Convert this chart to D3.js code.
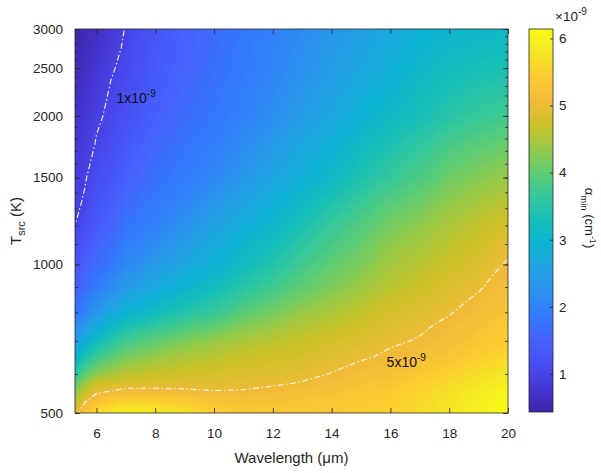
<!DOCTYPE html>
<html><head><meta charset="utf-8">
<script src="https://cdn.jsdelivr.net/npm/d3@7"></script>
<style>
html,body{margin:0;padding:0;background:#fff;}
svg{display:block;font-family:"Liberation Sans",Arial,Helvetica,sans-serif;}
</style></head><body>
<svg id="chart" width="601" height="473"></svg>
<script>
// ---------------- data ----------------
const wavelengths = [5.27, 5.6, 6, 6.5, 7, 8, 9, 10, 11, 12, 13, 14, 15, 16, 17, 18, 19, 20];
const temperatures = [500, 525, 550, 575, 600, 650, 700, 750, 800, 850, 900, 950, 1000, 1100, 1200, 1350, 1500, 1750, 2000, 2250, 2500, 2750, 3000];
// alpha_min (x1e-9 cm^-1), one row per temperature, one column per wavelength
const alphaMin = [
  [4.85,5.3,5.65,5.85,5.95,5.9,5.75,5.5,5.4,5.35,5.35,5.38,5.45,5.5,5.65,5.8,5.95,6.1],
  [4.6,5.0,5.3,5.45,5.6,5.55,5.45,5.3,5.25,5.25,5.28,5.32,5.4,5.47,5.62,5.77,5.93,6.07],
  [4.3,4.7,4.97,5.05,5.15,5.12,5.08,5.03,5.03,5.1,5.15,5.22,5.32,5.42,5.57,5.72,5.88,6.02],
  [3.95,4.35,4.7,4.75,4.82,4.85,4.87,4.88,4.93,4.95,5.02,5.1,5.22,5.32,5.48,5.63,5.78,5.93],
  [3.5,3.95,4.3,4.45,4.6,4.7,4.75,4.8,4.85,4.88,4.92,5.01,5.13,5.2,5.38,5.52,5.68,5.83],
  [2.95,3.35,3.7,3.95,4.15,4.35,4.5,4.6,4.7,4.75,4.8,4.9,4.96,5.05,5.15,5.3,5.48,5.62],
  [2.45,2.8,3.2,3.5,3.75,4.0,4.2,4.35,4.5,4.6,4.7,4.78,4.86,4.96,5.02,5.15,5.32,5.45],
  [2.1,2.42,2.75,3.07,3.32,3.6,3.82,4.0,4.22,4.38,4.53,4.64,4.76,4.88,4.96,5.06,5.22,5.36],
  [1.75,2.05,2.35,2.65,2.9,3.2,3.45,3.65,3.95,4.15,4.35,4.5,4.65,4.8,4.88,4.98,5.12,5.27],
  [1.6,1.85,2.12,2.4,2.65,2.95,3.2,3.42,3.72,3.95,4.17,4.35,4.52,4.7,4.8,4.92,5.04,5.21],
  [1.45,1.65,1.9,2.15,2.4,2.7,2.95,3.2,3.5,3.75,4.0,4.2,4.4,4.6,4.72,4.85,4.97,5.15],
  [1.37,1.55,1.77,2.0,2.25,2.55,2.8,3.05,3.35,3.6,3.88,4.1,4.3,4.52,4.65,4.78,4.92,5.09],
  [1.28,1.45,1.65,1.85,2.1,2.4,2.65,2.9,3.2,3.45,3.75,4.0,4.2,4.45,4.58,4.72,4.86,5.03],
  [1.12,1.3,1.5,1.68,1.92,2.2,2.45,2.72,3.0,3.25,3.55,3.82,4.05,4.3,4.45,4.61,4.76,4.92],
  [1.0,1.15,1.35,1.5,1.75,2.0,2.25,2.55,2.8,3.05,3.35,3.65,3.9,4.15,4.32,4.5,4.65,4.8],
  [0.92,1.03,1.25,1.39,1.6,1.85,2.07,2.33,2.57,2.82,3.1,3.38,3.65,3.9,4.08,4.3,4.45,4.6],
  [0.85,0.97,1.15,1.28,1.45,1.7,1.9,2.1,2.35,2.6,2.85,3.1,3.4,3.65,3.85,4.1,4.25,4.38],
  [0.77,0.88,1.02,1.15,1.32,1.57,1.77,1.95,2.17,2.4,2.65,2.88,3.15,3.38,3.58,3.8,3.95,4.06],
  [0.7,0.8,0.96,1.05,1.2,1.45,1.65,1.8,2.0,2.2,2.45,2.65,2.9,3.1,3.3,3.5,3.65,3.75],
  [0.62,0.72,0.86,1.03,1.14,1.4,1.58,1.75,1.94,2.12,2.35,2.55,2.77,2.97,3.17,3.35,3.48,3.55],
  [0.55,0.65,0.78,0.97,1.08,1.35,1.52,1.7,1.88,2.05,2.25,2.45,2.65,2.85,3.05,3.2,3.3,3.35],
  [0.5,0.6,0.71,0.89,1.05,1.32,1.5,1.67,1.85,2.02,2.2,2.4,2.57,2.77,2.95,3.1,3.17,3.22],
  [0.45,0.55,0.65,0.82,1.02,1.3,1.47,1.65,1.82,2.0,2.15,2.35,2.5,2.7,2.85,3.0,3.05,3.1]
];
const colorRange = [0.434, 6.14];
const xTicks = [6, 8, 10, 12, 14, 16, 18, 20];
const yTicks = [500, 1000, 1500, 2000, 2500, 3000];
const yMinorTicks = d3.range(500, 3001, 100);
const cbarTicks = [1, 2, 3, 4, 5, 6];
const contourLevels = [1, 5];
const contourLabels = [
  {base: "1x10", exp: "-9", lambda: 6.68, T: 2125},
  {base: "5x10", exp: "-9", lambda: 15.87, T: 620}
];

// ---------------- parula colormap ----------------
const parulaStops = ["#3e26a8","#4537d5","#484cf0","#4562fc","#337afd","#2c90f0","#21a3e3","#0bb3d2",
  "#14beb8","#35c79b","#5ecd74","#96ca48","#cbc128","#f3ba39","#fdcb32","#f5e526","#f9fb15"];
const parula = d3.piecewise(d3.interpolateRgb, parulaStops);
const colorOf = v => parula(Math.max(0, Math.min(1, (v - colorRange[0]) / (colorRange[1] - colorRange[0]))));

// ---------------- layout ----------------
const P = {l: 75, r: 508, t: 29, b: 413};
const CB = {l: 529, r: 553, t: 29, b: 412};
const axisColor = "#262626";

const x = d3.scaleLinear().domain([5.27, 20]).range([P.l, P.r]);
const y = d3.scaleLog().domain([500, 3000]).range([P.b, P.t]);
const cy = d3.scaleLinear().domain(colorRange).range([CB.b, CB.t]);

const svg = d3.select("#chart");
const defs = svg.append("defs");
defs.append("clipPath").attr("id", "plotClip").append("rect")
  .attr("x", P.l).attr("y", P.t).attr("width", P.r - P.l).attr("height", P.b - P.t);
defs.append("clipPath").attr("id", "lineClip").append("rect")
  .attr("x", P.l + 1.2).attr("y", P.t + 1.2).attr("width", P.r - P.l - 2.4).attr("height", P.b - P.t - 2.4);

// grid -> data coordinate transform
const n = wavelengths.length, m = temperatures.length;
function interpArr(arr, g, len) {
  const k = Math.max(0, Math.min(len - 1, g - 0.5));
  const i = Math.min(len - 2, Math.floor(k));
  return arr[i] + (k - i) * (arr[i + 1] - arr[i]);
}
const proj = d3.geoTransform({
  point(px, py) {
    this.stream.point(x(interpArr(wavelengths, px, n)), y(interpArr(temperatures, py, m)));
  }
});
const path = d3.geoPath(proj);

const values = [];
for (let j = 0; j < m; j++) for (let i = 0; i < n; i++) values.push(alphaMin[j][i]);

const step = 0.05;
const thresholds = d3.range(0.40, 6.2, step);
const bands = d3.contours().size([n, m]).thresholds(thresholds)(values);

const gFill = svg.append("g").attr("clip-path", "url(#plotClip)");
gFill.selectAll("path").data(bands).join("path")
  .attr("d", path)
  .attr("fill", d => colorOf(d.value + step / 2))
  .attr("stroke", d => colorOf(d.value + step / 2))
  .attr("stroke-width", 0.4);

// dash-dot contour lines
const lines = d3.contours().size([n, m]).thresholds(contourLevels)(values);
svg.append("g").attr("clip-path", "url(#lineClip)")
  .selectAll("path").data(lines).join("path")
  .attr("d", path)
  .attr("fill", "none")
  .attr("stroke", "#f4f4f4")
  .attr("stroke-width", 1.1)
  .attr("stroke-linejoin", "round")
  .attr("stroke-dasharray", "6,2.5,1.5,2.5");

// contour labels
contourLabels.forEach(lb => {
  const t = svg.append("text").attr("x", x(lb.lambda)).attr("y", y(lb.T))
    .attr("font-size", 14).attr("fill", "#111");
  t.append("tspan").text(lb.base);
  t.append("tspan").attr("font-size", 10).attr("dy", -6).text(lb.exp);
});

// ---------------- axes ----------------
function styleAxis(g) {
  g.selectAll("path.domain").remove();
  g.selectAll("line").attr("stroke", axisColor).attr("stroke-width", 0.8);
  g.selectAll("text").attr("fill", axisColor).attr("font-size", 13.5)
    .attr("font-family", '"Liberation Sans",Arial,Helvetica,sans-serif');
}
svg.append("g").attr("transform", `translate(0,${P.b})`)
  .call(d3.axisBottom(x).tickValues(xTicks).tickSize(-5).tickPadding(15).tickFormat(d3.format("d")))
  .call(styleAxis);
svg.append("g").attr("transform", `translate(0,${P.t})`)
  .call(d3.axisTop(x).tickValues(xTicks).tickSize(-5).tickFormat(""))
  .call(styleAxis);
svg.append("g").attr("transform", `translate(${P.l},0)`)
  .call(d3.axisLeft(y).tickValues(yMinorTicks).tickSize(-3).tickFormat(""))
  .call(styleAxis);
svg.append("g").attr("transform", `translate(${P.l},0)`)
  .call(d3.axisLeft(y).tickValues(yTicks).tickSize(-5).tickPadding(12).tickFormat(d3.format("d")))
  .call(styleAxis);
svg.append("g").attr("transform", `translate(${P.r},0)`)
  .call(d3.axisRight(y).tickValues(yMinorTicks).tickSize(-3).tickFormat(""))
  .call(styleAxis);
svg.append("g").attr("transform", `translate(${P.r},0)`)
  .call(d3.axisRight(y).tickValues(yTicks).tickSize(-5).tickFormat(""))
  .call(styleAxis);

svg.append("rect").attr("x", P.l).attr("y", P.t).attr("width", P.r - P.l).attr("height", P.b - P.t)
  .attr("fill", "none").attr("stroke", axisColor).attr("stroke-width", 0.8);

// axis labels
svg.append("text").attr("x", (P.l + P.r) / 2).attr("y", 463).attr("text-anchor", "middle")
  .attr("font-size", 15).attr("fill", axisColor).text("Wavelength (\u03bcm)");

const yl = svg.append("text").attr("transform", `translate(21,${(P.t + P.b) / 2}) rotate(-90)`)
  .attr("text-anchor", "middle").attr("font-size", 15).attr("fill", axisColor);
yl.append("tspan").text("T");
yl.append("tspan").attr("font-size", 11).attr("dy", 4).text("src");
yl.append("tspan").attr("dy", -4).text(" (K)");

// ---------------- colorbar ----------------
const grad = defs.append("linearGradient").attr("id", "cbGrad")
  .attr("x1", 0).attr("y1", 1).attr("x2", 0).attr("y2", 0);
d3.range(0, 1.0001, 1 / 64).forEach(t => {
  grad.append("stop").attr("offset", t).attr("stop-color", parula(t));
});
svg.append("rect").attr("x", CB.l).attr("y", CB.t).attr("width", CB.r - CB.l).attr("height", CB.b - CB.t)
  .attr("fill", "url(#cbGrad)").attr("stroke", axisColor).attr("stroke-width", 0.8);
svg.append("g").attr("transform", `translate(${CB.r},0)`)
  .call(d3.axisRight(cy).tickValues(cbarTicks).tickSize(-3).tickPadding(6).tickFormat(d3.format("d")))
  .call(styleAxis);

const ex = svg.append("text").attr("x", 555).attr("y", 21).attr("font-size", 13.5).attr("fill", axisColor);
ex.append("tspan").text("\u00d710");
ex.append("tspan").attr("font-size", 10).attr("dy", -6).text("-9");

const cl = svg.append("text").attr("transform", `translate(585,218) rotate(90)`)
  .attr("text-anchor", "middle").attr("font-size", 13).attr("fill", axisColor);
cl.append("tspan").text("\u03b1");
cl.append("tspan").attr("font-size", 9.5).attr("dy", 4).text("min");
cl.append("tspan").attr("dy", -4).text(" (cm");
cl.append("tspan").attr("font-size", 9).attr("dy", -5).text("-1");
cl.append("tspan").attr("dy", 5).text(")");
</script>
</body></html>
